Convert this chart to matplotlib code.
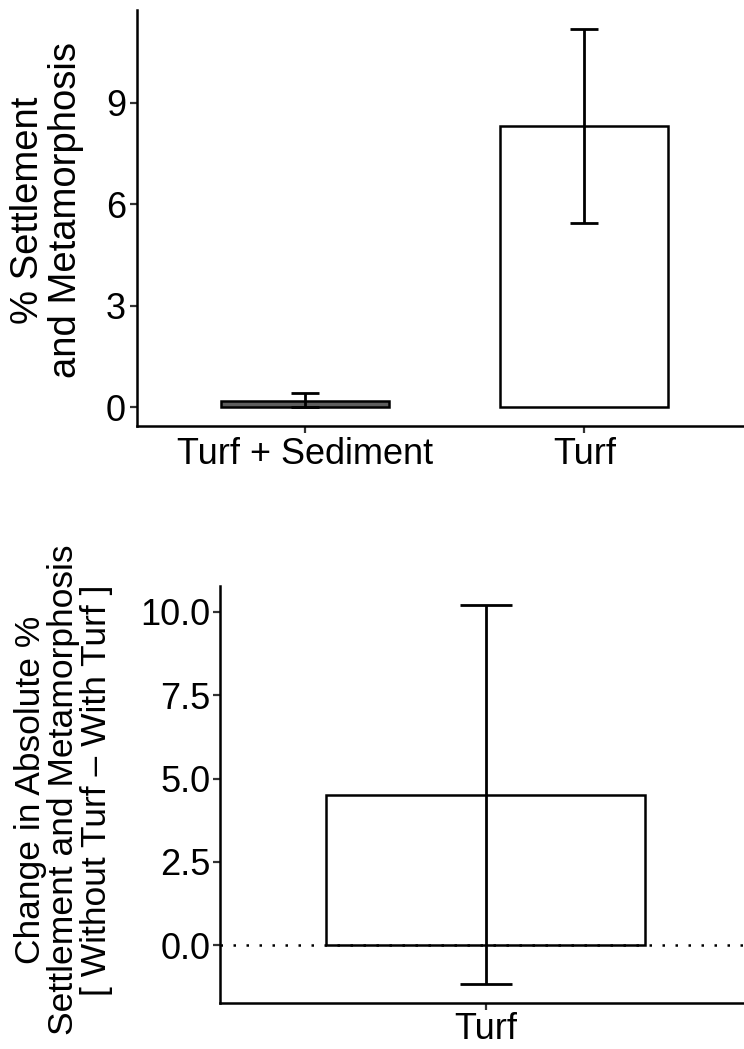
import matplotlib
matplotlib.use("Agg")
import matplotlib.pyplot as plt

plt.rcParams['font.family'] = ['Liberation Sans', 'DejaVu Sans']

# top panel: settlement per treatment
treatments = ["Turf + Sediment", "Turf"]
settle_mean = [0.17, 8.33]
settle_low = [0.0, 5.45]
settle_high = [0.41, 11.19]
settle_fill = ["#5e5e5e", "white"]

# bottom panel: change in settlement
change_cats = ["Turf"]
change_mean = [4.52]
change_low = [-1.15]
change_high = [10.2]

fig = plt.figure(figsize=(7.44, 10.49), dpi=100)

def style_axes(ax, tick_pad):
    for side in ['top', 'right']:
        ax.spines[side].set_visible(False)
    for side in ['left', 'bottom']:
        ax.spines[side].set_linewidth(1.8)
        ax.spines[side].set_color('black')
    ax.tick_params(axis='both', length=5, width=1.6, color='#333333',
                   labelsize=26, labelcolor='black', pad=tick_pad)

# ---- top
ax1 = fig.add_axes([137/744, 1 - 426/1049, (752 - 137)/744, (426 - 10)/1049])
x1 = [1, 2]
ax1.bar(x1, settle_mean, width=0.6, color=settle_fill, edgecolor='black',
        linewidth=1.8, zorder=2)
err_lo = [m - l for m, l in zip(settle_mean, settle_low)]
err_hi = [h - m for m, h in zip(settle_mean, settle_high)]
ax1.errorbar(x1, settle_mean, yerr=[err_lo, err_hi], fmt='none', ecolor='black',
             elinewidth=2, capsize=10, capthick=2, zorder=3)
ax1.set_xlim(0.4, 2.6)
ax1.set_ylim(-0.56, 11.75)
ax1.set_yticks([0, 3, 6, 9])
ax1.set_xticks(x1)
ax1.set_xticklabels(treatments)
style_axes(ax1, 3)
fig.text(47/744, 1 - 210/1049, "% Settlement\nand Metamorphosis", rotation=90,
         ha='center', va='center', fontsize=27.5, linespacing=1.08,
         multialignment='center')

# ---- bottom
ax2 = fig.add_axes([220/744, 1 - 1002.7/1049, (751 - 220)/744, (1002.7 - 586)/1049])
x2 = [1]
ax2.bar(x2, change_mean, width=0.6, color='white', edgecolor='black',
        linewidth=1.8, zorder=2)
ax2.axhline(0, color='black', linewidth=1.8, linestyle=(0, (1, 4.2)), zorder=2.5)
ax2.errorbar(x2, change_mean,
             yerr=[[change_mean[0] - change_low[0]], [change_high[0] - change_mean[0]]],
             fmt='none', ecolor='black', elinewidth=2, capsize=19, capthick=2, zorder=3)
ax2.set_xlim(0.5, 1.5)
ax2.set_ylim(-1.72, 10.77)
ax2.set_yticks([0, 2.5, 5, 7.5, 10])
ax2.set_yticklabels(["0.0", "2.5", "5.0", "7.5", "10.0"])
ax2.set_xticks(x2)
ax2.set_xticklabels(change_cats)
style_axes(ax2, 2)
fig.text(64/744, 1 - 790/1049,
         "Change in Absolute %\nSettlement and Metamorphosis\n[ Without Turf \u2013 With Turf ]",
         rotation=90, ha='center', va='center', fontsize=25.5, linespacing=1.0,
         multialignment='center')

fig.savefig("out.png", dpi=100)
